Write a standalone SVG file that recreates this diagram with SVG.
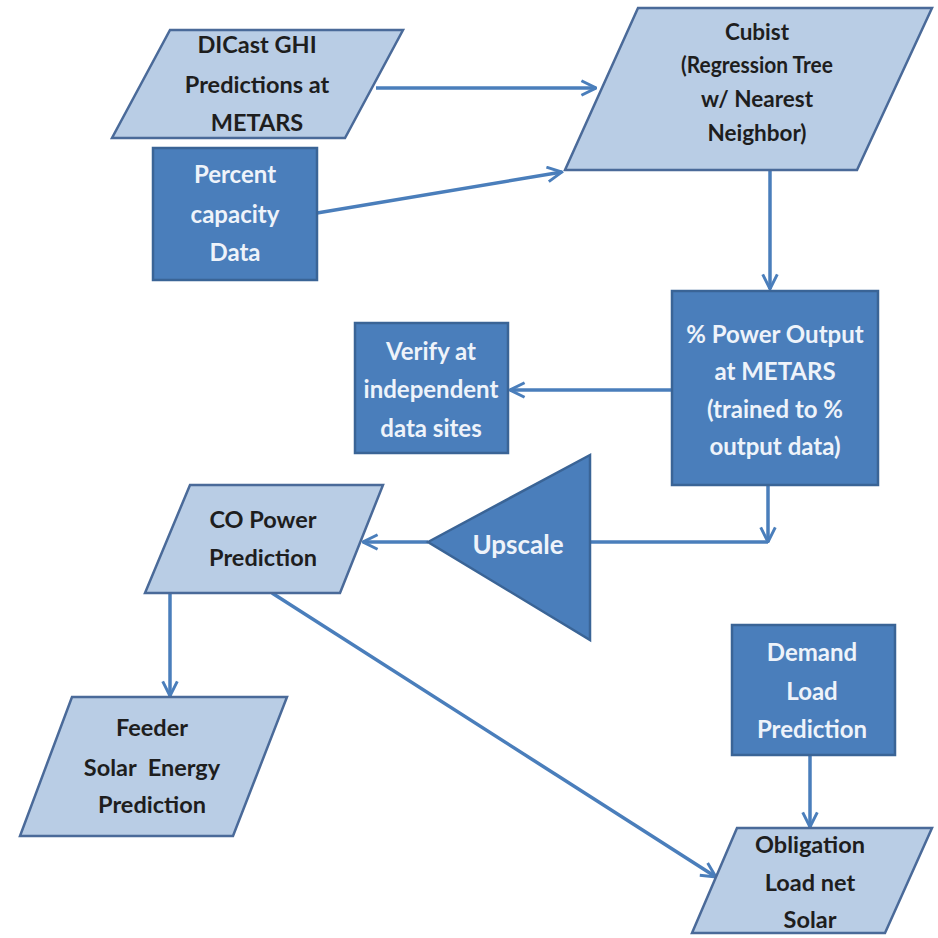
<svg xmlns="http://www.w3.org/2000/svg" width="938" height="938" viewBox="0 0 938 938">
<style>
.lt{fill:#b9cde5;stroke:#4a6a99;stroke-width:2.5}
.dk{fill:#4a7ebb;stroke:#3a6496;stroke-width:2.5}
.t{font-family:Lato,"Open Sans",sans-serif;font-weight:bold;font-size:23.5px;text-anchor:middle}
.td{fill:#1e1e1e}
.tw{fill:#eef3fa;font-size:24px}
.cb{font-size:22.5px}
.c{stroke:#4a7ebb;stroke-width:3.5;fill:none}
</style>
<defs>
<marker id="a" viewBox="0 0 12 12" refX="11" refY="6" markerWidth="5" markerHeight="5" orient="auto" markerUnits="strokeWidth">
<path d="M1,1 L11,6 L1,11" fill="none" stroke="#4a7ebb" stroke-width="2"/>
</marker>
</defs>
<rect width="938" height="938" fill="#ffffff"/>
<g id="connectors">
<line class="c" x1="376" y1="88" x2="596" y2="88" marker-end="url(#a)"/>
<line class="c" x1="317" y1="213" x2="562" y2="172" marker-end="url(#a)"/>
<line class="c" x1="770" y1="170" x2="770" y2="289" marker-end="url(#a)"/>
<line class="c" x1="672" y1="390" x2="510" y2="390" marker-end="url(#a)"/>
<line class="c" x1="768" y1="485" x2="768" y2="542" marker-end="url(#a)"/>
<line class="c" x1="768" y1="542" x2="590" y2="542"/>
<line class="c" x1="428" y1="542" x2="363" y2="542" marker-end="url(#a)"/>
<line class="c" x1="170" y1="593" x2="170" y2="696" marker-end="url(#a)"/>
<line class="c" x1="272" y1="593" x2="716" y2="877" marker-end="url(#a)"/>
<line class="c" x1="810" y1="755" x2="810" y2="827" marker-end="url(#a)"/>
</g>
<g id="dicast">
<polygon class="lt" points="170,30 403,30 345,138 112,138"/>
<text class="t td" x="257" y="53">DICast GHI</text>
<text class="t td" x="257" y="93">Predictions at</text>
<text class="t td" x="257" y="131">METARS</text>
</g>
<g id="percent">
<rect class="dk" x="153" y="148" width="164" height="132"/>
<text class="t tw" x="235" y="183">Percent</text>
<text class="t tw" x="235" y="223">capacity</text>
<text class="t tw" x="235" y="261">Data</text>
</g>
<g id="cubist">
<polygon class="lt" points="638,8 932,8 857,170 565,170"/>
<text class="t td cb" x="757" y="40">Cubist</text>
<text class="t td cb" x="757" y="73" textLength="152" lengthAdjust="spacingAndGlyphs">(Regression Tree</text>
<text class="t td cb" x="757" y="107">w/ Nearest</text>
<text class="t td cb" x="757" y="141">Neighbor)</text>
</g>
<g id="power">
<rect class="dk" x="672" y="291" width="206" height="194"/>
<text class="t tw" x="775" y="343">% Power Output</text>
<text class="t tw" x="775" y="380">at METARS</text>
<text class="t tw" x="775" y="418">(trained to %</text>
<text class="t tw" x="775" y="455">output data)</text>
</g>
<g id="verify">
<rect class="dk" x="355" y="323" width="153" height="130"/>
<text class="t tw" x="431" y="360">Verify at</text>
<text class="t tw" x="431" y="398">independent</text>
<text class="t tw" x="431" y="437">data sites</text>
</g>
<g id="upscale">
<polygon class="dk" points="428,542 590,455 590,640"/>
<text class="t tw" x="518" y="554" style="font-size:26px">Upscale</text>
</g>
<g id="copower">
<polygon class="lt" points="190,485 383,485 340,593 145,593"/>
<text class="t td" x="263" y="528">CO Power</text>
<text class="t td" x="263" y="566">Prediction</text>
</g>
<g id="feeder">
<polygon class="lt" points="72,697 287,697 233,836 20,836"/>
<text class="t td" x="152" y="736">Feeder</text>
<text class="t td" x="152" y="776" xml:space="preserve">Solar  Energy</text>
<text class="t td" x="152" y="813">Prediction</text>
</g>
<g id="demand">
<rect class="dk" x="732" y="625" width="163" height="130"/>
<text class="t tw" x="812" y="661">Demand</text>
<text class="t tw" x="812" y="700">Load</text>
<text class="t tw" x="812" y="738">Prediction</text>
</g>
<g id="obligation">
<polygon class="lt" points="737,828 932,828 885,933 692,933"/>
<text class="t td" x="810" y="853">Obligation</text>
<text class="t td" x="810" y="891">Load net</text>
<text class="t td" x="810" y="928">Solar</text>
</g>
</svg>
